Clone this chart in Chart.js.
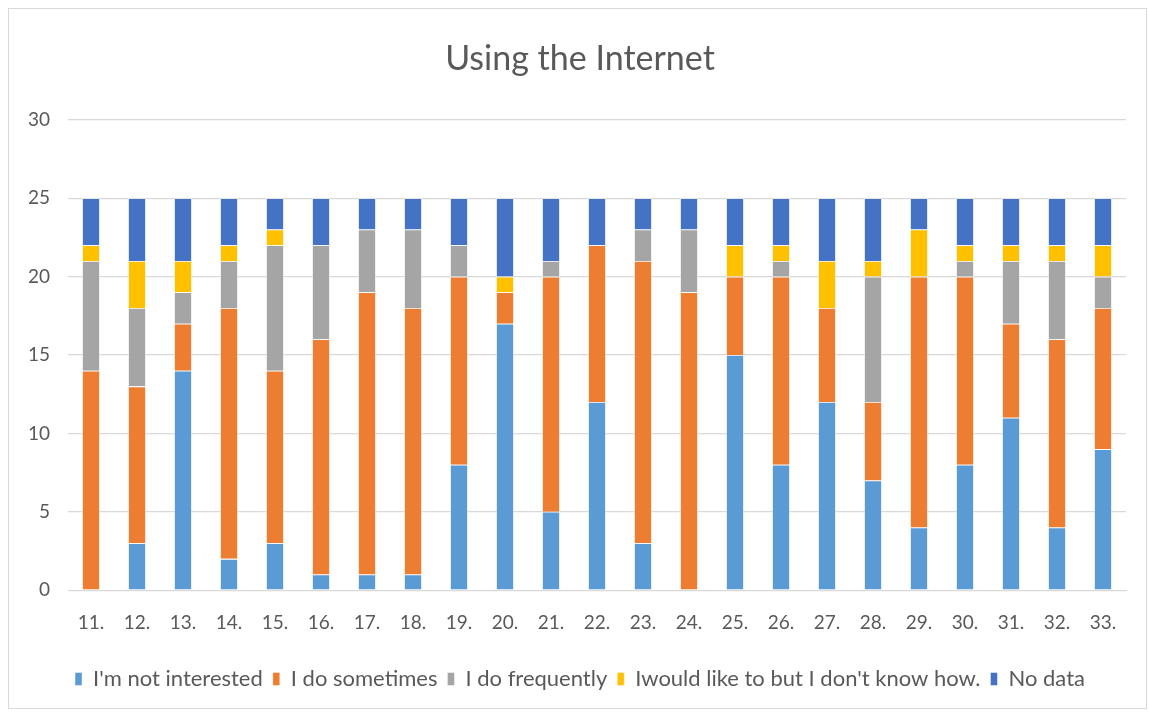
<!DOCTYPE html>
<html>
<head>
<meta charset="utf-8">
<script src="https://cdn.jsdelivr.net/npm/chart.js@4/dist/chart.umd.min.js"></script>
<style>
  body { margin: 0; background: #fff; }
  #wrap {
    position: absolute; left: 8px; top: 8px;
    width: 1139px; height: 701px;
    border: 1px solid #d9d9d9; box-sizing: border-box;
  }
</style>
</head>
<body>
<div id="wrap"><canvas id="chartCanvas"></canvas></div>
<script>
const questions = ['11.', '12.', '13.', '14.', '15.', '16.', '17.', '18.', '19.', '20.', '21.', '22.',
  '23.', '24.', '25.', '26.', '27.', '28.', '29.', '30.', '31.', '32.', '33.'];

const notInterested = [0, 3, 14, 2, 3, 1, 1, 1, 8, 17, 5, 12, 3, 0, 15, 8, 12, 7, 4, 8, 11, 4, 9];
const sometimes     = [14, 10, 3, 16, 11, 15, 18, 17, 12, 2, 15, 10, 18, 19, 5, 12, 6, 5, 16, 12, 6, 12, 9];
const frequently    = [7, 5, 2, 3, 8, 6, 4, 5, 2, 0, 1, 0, 2, 4, 0, 1, 0, 8, 0, 1, 4, 5, 2];
const wouldLike     = [1, 3, 2, 1, 1, 0, 0, 0, 0, 1, 0, 0, 0, 0, 2, 1, 3, 1, 3, 1, 1, 1, 2];
const noData        = [3, 4, 4, 3, 2, 3, 2, 2, 3, 5, 4, 3, 2, 2, 3, 3, 4, 4, 2, 3, 3, 3, 3];

const yTicks = [0, 5, 10, 15, 20, 25, 30];

const FONT = 'Lato, "Open Sans", sans-serif';
const TEXT = '#595959';

function series(label, data, color) {
  return {
    label: label,
    data: data,
    backgroundColor: color,
    borderColor: 'rgba(255,255,255,0.55)',
    borderWidth: 0.8,
    categoryPercentage: 1,
    barPercentage: 0.39
  };
}

const ctx = document.getElementById('chartCanvas').getContext('2d');

new Chart(ctx, {
  type: 'bar',
  data: {
    labels: questions,
    datasets: [
      series("I'm not interested", notInterested, '#5B9BD5'),
      series('I do sometimes', sometimes, '#ED7D31'),
      series('I do frequently', frequently, '#A5A5A5'),
      series("Iwould like to but I don't know how.", wouldLike, '#FFC000'),
      series('No data', noData, '#4472C4')
    ]
  },
  options: {
    responsive: true,
    maintainAspectRatio: false,
    animation: false,
    layout: { padding: { left: 20, right: 15, top: 12, bottom: 8 } },
    plugins: {
      title: {
        display: true,
        text: 'Using the Internet',
        color: TEXT,
        font: { family: FONT, size: 34, weight: 'normal' },
        padding: { top: 18, bottom: 40 }
      },
      legend: {
        position: 'bottom',
        labels: {
          color: TEXT,
          font: { family: FONT, size: 22 },
          boxWidth: 7,
          boxHeight: 13,
          padding: 10
        }
      },
      tooltip: { enabled: false }
    },
    scales: {
      x: {
        stacked: true,
        grid: { display: false },
        border: { color: '#d9d9d9' },
        ticks: { color: TEXT, font: { family: FONT, size: 19 }, padding: 13 },
        // extra room between the category labels and the legend
        afterFit: axis => { axis.height += 11; }
      },
      y: {
        stacked: true,
        min: 0,
        max: 30,
        afterBuildTicks: axis => { axis.ticks = yTicks.map(v => ({ value: v })); },
        afterFit: axis => { axis.width = 39; },
        grid: { color: '#d9d9d9', lineWidth: 1.3, drawTicks: false },
        border: { display: false },
        ticks: { color: TEXT, font: { family: FONT, size: 19 }, padding: 18 }
      },
      // empty strip on the right so the plot sits a little left of centre
      gap: {
        type: 'linear',
        position: 'right',
        grid: { display: false },
        border: { display: false },
        ticks: { display: false },
        afterFit: axis => { axis.width = 5; }
      }
    }
  }
});
</script>
</body>
</html>
